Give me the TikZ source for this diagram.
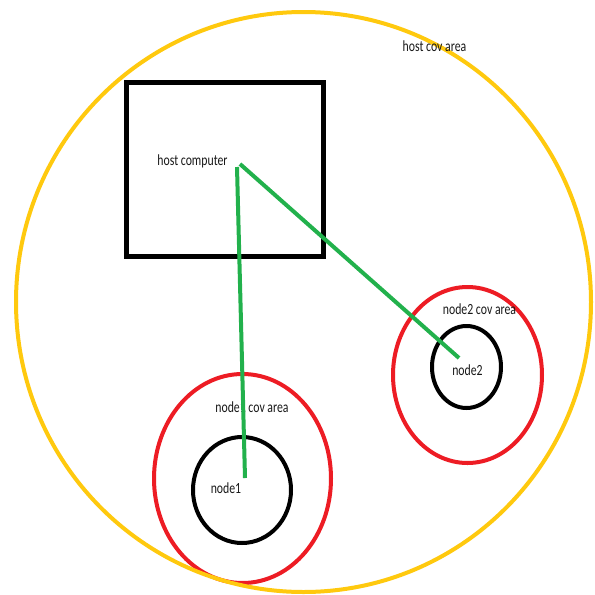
\documentclass[tikz,border=0pt]{standalone}
\usepackage{fontspec}
\setmainfont{Carlito}
\newfontfamily\labelfont[FakeStretch=0.76]{Carlito}
\definecolor{covyellow}{HTML}{FFC90E}
\definecolor{covred}{HTML}{ED1C24}
\definecolor{linkgreen}{HTML}{22B14C}
\begin{document}
\begin{tikzpicture}[x=1pt,y=-1pt,
  hostarea/.style={draw=covyellow,line width=4pt},
  nodearea/.style={draw=covred,line width=4pt},
  device/.style={draw=black,line width=4pt},
  link/.style={draw=linkgreen,line width=4pt},
  lbl/.style={font=\labelfont\fontsize{15.5}{17}\selectfont,text=black!90,inner sep=0pt}]
\useasboundingbox (0,0) rectangle (595,595);
\fill[white] (0,0) rectangle (595,595);

% node1 and its coverage area
\draw[nodearea] (242.5,478.5) ellipse [x radius=88.5pt, y radius=104.5pt];
\draw[device] (242,490) ellipse [x radius=49pt, y radius=53pt];
\node[lbl] (n1cov) at (252,407) {node1 cov area};
\node[lbl] (node1) at (226,488) {node1};

% node2 and its coverage area
\draw[nodearea] (467.5,375) ellipse [x radius=74.5pt, y radius=88pt];
\draw[device] (466.5,367) ellipse [x radius=34.5pt, y radius=41pt];
\node[lbl] (n2cov) at (479.5,309) {node2 cov area};
\node[lbl] (node2) at (467.5,370) {node2};

% host coverage area
\draw[hostarea] (303.5,302) ellipse [x radius=287.5pt, y radius=290pt];
\node[lbl] (hostcov) at (434.5,46) {host cov area};

% host computer
\draw[device,line width=5pt] (126,82) rectangle (323,256);
\node[lbl] (host) at (192.5,161) {host computer};

% links from the host computer
\coordinate (hc1) at (237,167);
\coordinate (hc2) at (240,164);
\coordinate (l1) at (245,478);
\coordinate (l2) at (459,358);
\draw[link] (hc1) -- (l1);
\draw[link] (hc2) -- (l2);
\end{tikzpicture}
\end{document}
